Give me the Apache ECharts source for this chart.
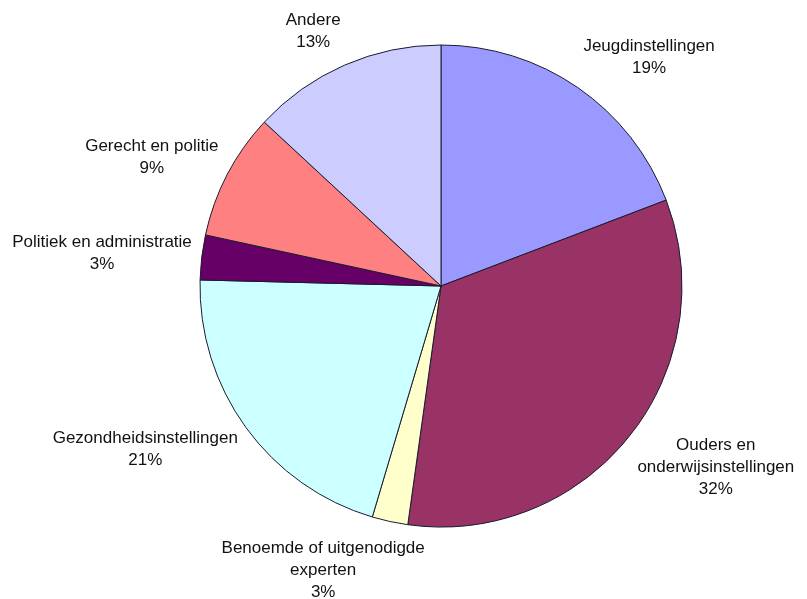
<!DOCTYPE html>
<html lang="nl">
  <head>
    <meta charset="UTF-8" />
    <title>Pie</title>
    <script src="https://cdn.jsdelivr.net/npm/echarts@6/dist/echarts.min.js"></script>
    <style>
      body { margin: 0; background: #fff; }
    </style>
  </head>
  <body>
    <div id="main" style="width: 807px; height: 599px"></div>

    <script>
      const myEchart = echarts.init(document.getElementById("main"));

      // categories, clockwise from 12 o'clock
      var names = [
        "Jeugdinstellingen",
        "Ouders en\nonderwijsinstellingen",
        "Benoemde of uitgenodigde\nexperten",
        "Gezondheidsinstellingen",
        "Politiek en administratie",
        "Gerecht en politie",
        "Andere",
      ];
      var shares = [19.2, 33.0, 2.4, 20.8, 3.0, 8.5, 13.1];
      // percentages printed in the labels
      var printed = [19, 32, 3, 21, 3, 9, 13];
      var colors = ["#9999FF", "#993366", "#FFFFCC", "#CCFFFF", "#660066", "#FF8080", "#CCCCFF"];

      var cx = 441, cy = 286, R = 241;
      var total = shares.reduce((a, b) => a + b, 0);

      // mid angle of each slice (radians, clockwise from top)
      var mids = [];
      var acc = 0;
      shares.forEach((v) => {
        mids.push(((acc + v / 2) / total) * Math.PI * 2);
        acc += v;
      });

      let options = {
        animation: false,
        series: [
          {
            type: "pie",
            center: [cx, cy],
            radius: R,
            startAngle: 90,
            clockwise: true,
            avoidLabelOverlap: false,
            silent: true,
            data: names.map((n, i) => ({
              name: n,
              value: shares[i],
              itemStyle: { color: colors[i] },
            })),
            itemStyle: { borderColor: "#1a1a2e", borderWidth: 1 },
            label: {
              show: true,
              position: "outside",
              color: "#111",
              fontFamily: "Liberation Sans, Arial, sans-serif",
              fontSize: 17,
              lineHeight: 22,
              align: "center",
              formatter: (p) => p.name + "\n" + printed[p.dataIndex] + "%",
            },
            labelLine: { show: false },
            // Excel-like placement: box hugs the pie just outside the slice middle
            labelLayout: function (p) {
              var a = mids[p.dataIndex];
              var ux = Math.sin(a), uy = -Math.cos(a);
              var hw = p.labelRect.width / 2, hh = p.labelRect.height / 2;
              var fx = Math.max(-1, Math.min(1, 3 * ux));
              return {
                x: cx + ux * (R + 10) + hw * fx,
                y: cy + uy * (R + 10) + hh * 1.2 * uy,
                align: "center",
                verticalAlign: "middle",
              };
            },
          },
        ],
      };

      myEchart.setOption(options);
    </script>
  </body>
</html>
